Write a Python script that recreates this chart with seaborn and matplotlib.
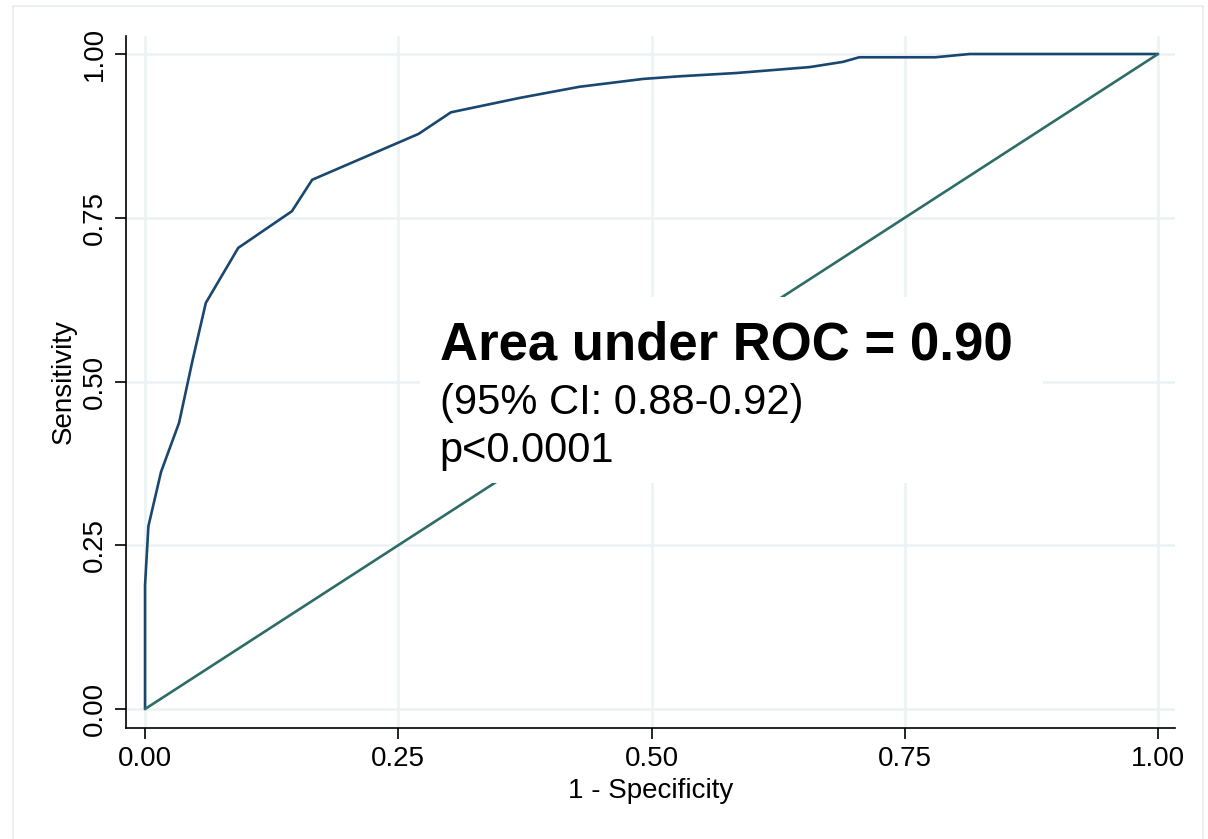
import matplotlib
matplotlib.use("Agg")
import matplotlib.pyplot as plt
import seaborn as sns
import pandas as pd
from matplotlib.patches import Rectangle

# ROC curve points
fpr = [0.0, 0.0, 0.0033, 0.0158, 0.0336, 0.047, 0.060, 0.092, 0.145, 0.165,
       0.270, 0.302, 0.370, 0.429, 0.492, 0.528, 0.584, 0.656, 0.689, 0.705,
       0.780, 0.814, 1.0]
tpr = [0.0, 0.189, 0.279, 0.362, 0.437, 0.533, 0.620, 0.704, 0.760, 0.808,
       0.878, 0.911, 0.933, 0.950, 0.962, 0.966, 0.971, 0.980, 0.988, 0.995,
       0.995, 1.0, 1.0]
ref_x = [0.0, 1.0]
ref_y = [0.0, 1.0]

ticks = [0.0, 0.25, 0.5, 0.75, 1.0]
tick_labels = ["0.00", "0.25", "0.50", "0.75", "1.00"]

auc_text = "Area under ROC = 0.90"
ci_text = "(95% CI: 0.88-0.92)"
p_text = "p<0.0001"

sns.set_style("white")
plt.rcParams['font.family'] = ['Liberation Sans', 'DejaVu Sans']
plt.rcParams['text.color'] = 'black'
plt.rcParams['axes.labelcolor'] = 'black'
plt.rcParams['xtick.color'] = 'black'
plt.rcParams['ytick.color'] = 'black'

roc = pd.DataFrame({"fpr": fpr, "tpr": tpr})
ref = pd.DataFrame({"x": ref_x, "y": ref_y})

fig = plt.figure(figsize=(12.08, 8.39), dpi=100)
ax = fig.add_axes([0.1043, 0.1323, 0.8684, 0.8248])

# light outer frame like the Stata graph region
fig.patches.append(Rectangle((13 / 1208, -0.05), 1190 / 1208, 1.05 - 6 / 839,
                             transform=fig.transFigure, fill=False,
                             edgecolor="#e6ecee", linewidth=1.2))

sns.lineplot(data=roc, x="fpr", y="tpr", sort=False, estimator=None,
             color="#1a476f", linewidth=1.9, ax=ax, zorder=2)
sns.lineplot(data=ref, x="x", y="y", sort=False, estimator=None,
             color="#2d6d66", linewidth=1.9, ax=ax, zorder=2)

ax.set_xlim(-0.0188, 1.0168)
ax.set_ylim(-0.029, 1.0275)
ax.set_xticks(ticks)
ax.set_xticklabels(tick_labels)
ax.set_yticks(ticks)
ax.set_yticklabels(tick_labels, rotation=90, va="center")

ax.grid(True, color="#eaf2f3", linewidth=1.8)
ax.set_axisbelow(True)
for s in ["top", "right"]:
    ax.spines[s].set_visible(False)
for s in ["left", "bottom"]:
    ax.spines[s].set_color("black")
    ax.spines[s].set_linewidth(1.2)

ax.tick_params(axis="both", direction="out", length=8, width=1.2,
               color="black", labelcolor="black", labelsize=20, pad=5,
               left=True, bottom=True)
ax.set_xlabel("1 - Specificity", fontsize=20, labelpad=4)
ax.set_ylabel("Sensitivity", fontsize=20, labelpad=4)

# white box behind the annotation
ax.add_patch(Rectangle((0.271, 0.345), 0.615, 0.284, facecolor="white",
                       edgecolor="none", zorder=3))
ax.text(0.291, 0.533, auc_text, fontsize=38, fontweight="bold", zorder=4)
ax.text(0.291, 0.450, ci_text, fontsize=30, zorder=4)
ax.text(0.291, 0.377, p_text, fontsize=30, zorder=4)

fig.savefig("out.png", dpi=100, facecolor="white")
